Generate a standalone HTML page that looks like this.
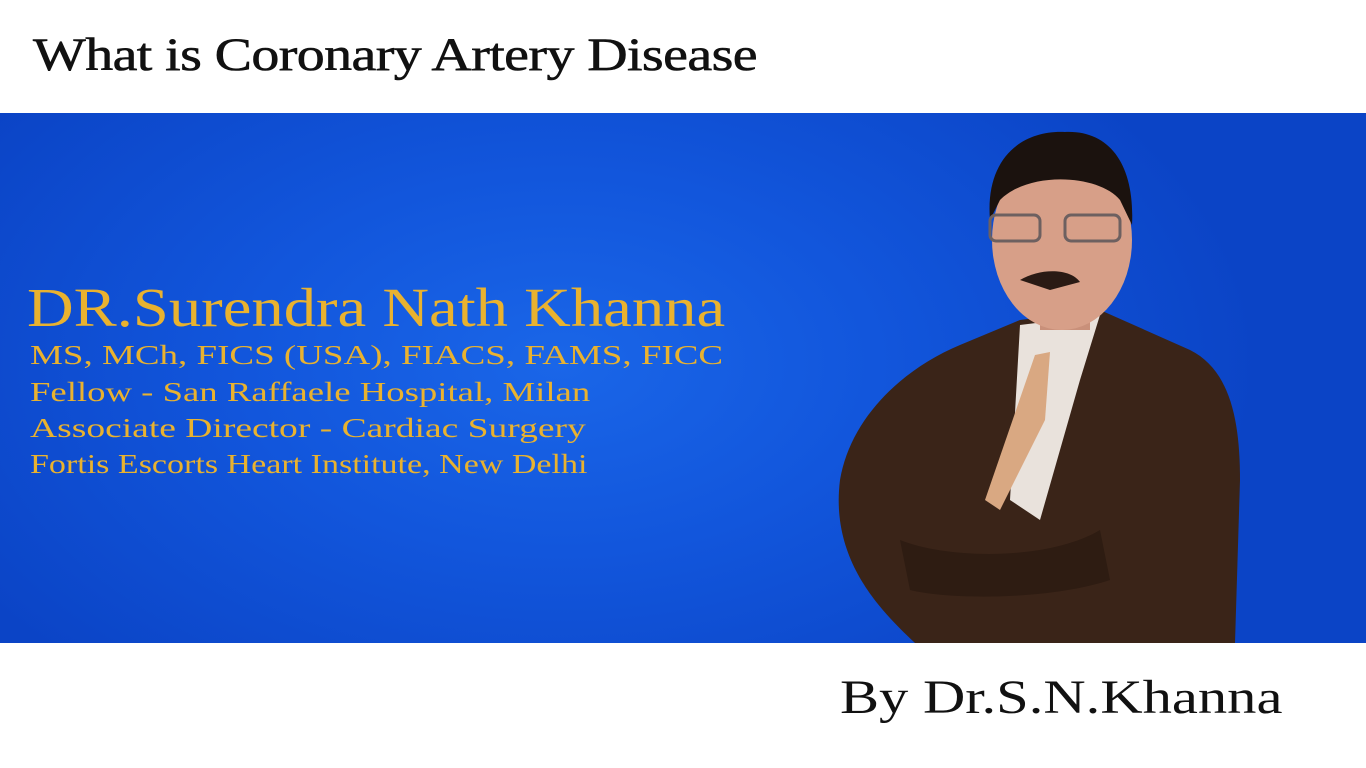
<!DOCTYPE html>
<html><head><meta charset="utf-8"><style>
html,body{margin:0;padding:0;width:1366px;height:768px;overflow:hidden;background:#fff;font-family:"Liberation Serif",serif}
.abs{position:absolute;white-space:nowrap;transform-origin:0 0}
#band{position:absolute;left:0;top:113px;width:1366px;height:530px;background:radial-gradient(ellipse 700px 420px at 560px 250px,#1a66e8 0%,#1256dc 45%,#0b44c6 100%)}
.gold{color:#e9b22f}
</style></head><body>
<div class="abs" style="left:33px;top:28px;font-size:47px;color:#111;letter-spacing:-0.5px;transform:scaleX(1.19);-webkit-text-stroke:0.6px #111">What is Coronary Artery Disease</div>
<div id="band"></div>
<div class="abs gold" style="left:27px;top:276px;font-size:55px;transform:scaleX(1.175)">DR.Surendra Nath Khanna</div>
<div class="abs gold" style="left:30px;top:340px;font-size:27px;transform:scaleX(1.37)">MS, MCh, FICS (USA), FIACS, FAMS, FICC</div>
<div class="abs gold" style="left:30px;top:377px;font-size:27px;transform:scaleX(1.36)">Fellow - San Raffaele Hospital, Milan</div>
<div class="abs gold" style="left:30px;top:413px;font-size:27px;transform:scaleX(1.39)">Associate Director - Cardiac Surgery</div>
<div class="abs gold" style="left:30px;top:449px;font-size:27px;transform:scaleX(1.26)">Fortis Escorts Heart Institute, New Delhi</div>
<svg class="abs" style="left:0;top:0" width="1366" height="768">
<path d="M840,480 C850,420 900,370 960,345 L1020,320 L1100,310 L1190,350 C1230,370 1240,420 1240,480 L1235,643 L915,643 C880,610 830,560 840,480Z" fill="#3a2418"/>
<path d="M1020,325 L1060,320 L1100,315 L1080,380 L1040,520 L1010,500 Z" fill="#e9e2dc"/>
<path d="M1035,355 L1050,352 L1045,420 L1000,510 L985,500 Z" fill="#d9a882"/>
<path d="M900,540 C950,560 1050,560 1100,530 L1110,580 C1050,600 950,600 910,590 Z" fill="#2e1c12"/>
<rect x="1040" y="290" width="50" height="40" fill="#c9907a"/>
<ellipse cx="1062" cy="240" rx="70" ry="90" fill="#d79f88"/>
<path d="M990,220 C985,160 1020,130 1065,132 C1110,130 1135,165 1132,225 L1120,200 C1100,175 1030,170 1000,200 Z" fill="#1b120e"/>
<rect x="990" y="215" width="50" height="26" rx="6" fill="none" stroke="#6d6060" stroke-width="3"/>
<rect x="1065" y="215" width="55" height="26" rx="6" fill="none" stroke="#6d6060" stroke-width="3"/>
<path d="M1020,280 C1040,268 1070,268 1080,282 L1050,290 Z" fill="#2a1a14"/>
</svg>
<div class="abs" style="left:840px;top:670px;font-size:48px;color:#111;transform:scaleX(1.22)">By Dr.S.N.Khanna</div>
</body></html>
